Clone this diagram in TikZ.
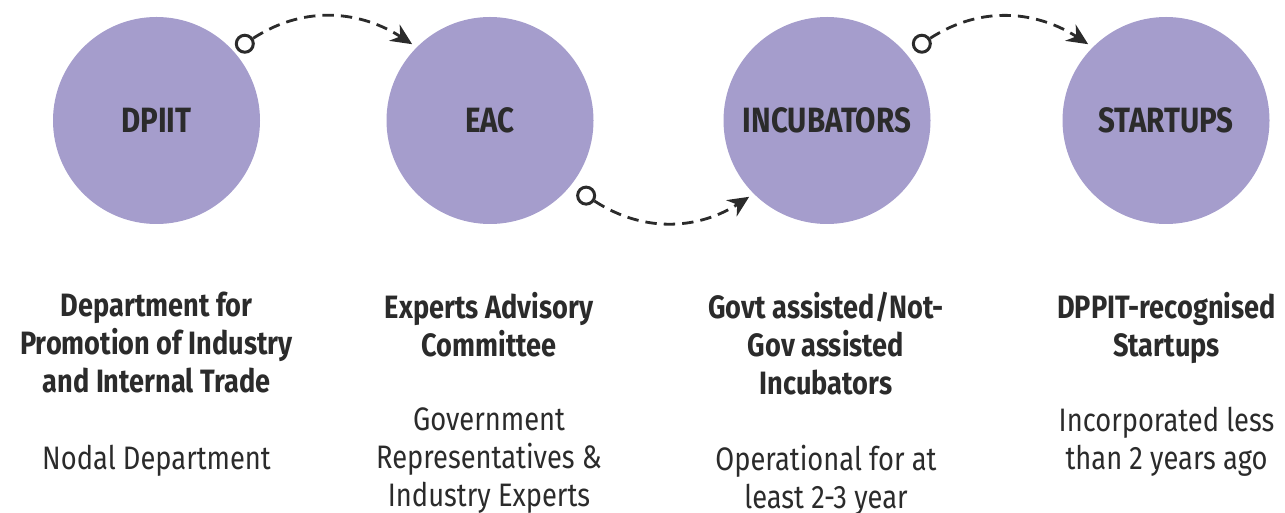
\documentclass[tikz,border=0pt]{standalone}
\usepackage{fontspec}
\setmainfont{Fira Sans}[FakeStretch=0.84]
\usetikzlibrary{positioning, arrows.meta, calc}
\definecolor{StageLilac}{HTML}{A59DCC}
\definecolor{InkDark}{HTML}{2B2B2B}

\begin{document}
\begin{tikzpicture}[
  stage/.style={circle, fill=StageLilac, minimum size=4.14cm, inner sep=0pt,
    text=InkDark, font=\fontsize{20}{22}\selectfont\bfseries},
  head/.style={anchor=north, align=center, inner sep=0pt, text=InkDark,
    font=\fontsize{18.4}{21.6}\selectfont\bfseries},
  note/.style={anchor=north, align=center, inner sep=0pt, text=InkDark,
    font=\fontsize{18.5}{21.6}\selectfont},
  dot/.style={circle, draw=InkDark, line width=1.7pt, fill=white,
    minimum size=0.34cm, inner sep=0pt},
  flow/.style={-{Stealth[length=12pt, width=11pt]}, draw=InkDark,
    line width=1.6pt, dash pattern=on 6.5pt off 4pt, shorten >=3pt}
]
  \useasboundingbox (0,0) rectangle (25.7,-10.26);

  % the four stages
  \node[stage] (dpiit) at (3.13,-2.41) {DPIIT};
  \node[stage] (eac) at (9.80,-2.41) {EAC};
  \node[stage] (incub) at (16.54,-2.41) {INCUBATORS};
  \node[stage] (startup) at (23.32,-2.41) {STARTUPS};

  % titles and notes
  \node[head] (dpiit-head) at (3.13,-5.84) {Department for\\Promotion of Industry\\and Internal Trade};
  \node[note] (dpiit-note) at (3.13,-8.90) {Nodal Department};
  \node[head] (eac-head) at (9.78,-5.84) {Experts Advisory\\Committee};
  \node[note] (eac-note) at (9.78,-8.14) {Government\\Representatives \&\\Industry Experts};
  \node[head] (incub-head) at (16.52,-5.84) {Govt assisted/Not-\\Gov assisted\\Incubators};
  \node[note] (incub-note) at (16.52,-8.90) {Operational for at\\least 2-3 year};
  \node[head] (startup-head) at (23.33,-5.84) {DPPIT-recognised\\Startups};
  \node[note] (startup-note) at (23.33,-8.14) {Incorporated less\\than 2 years ago};

  % dashed hand-offs
  \node[dot] (o1) at ($(dpiit)+(41:2.34)$) {};
  \node[dot] (o2) at ($(eac)+(-38:2.44)$) {};
  \node[dot] (o3) at ($(incub)+(39:2.44)$) {};
  \draw[flow] (o1) to[out=33, in=147] (eac.135);
  \draw[flow] (o2) to[out=-33, in=-147] (incub.225);
  \draw[flow] (o3) to[out=33, in=147] (startup.135);
\end{tikzpicture}
\end{document}
